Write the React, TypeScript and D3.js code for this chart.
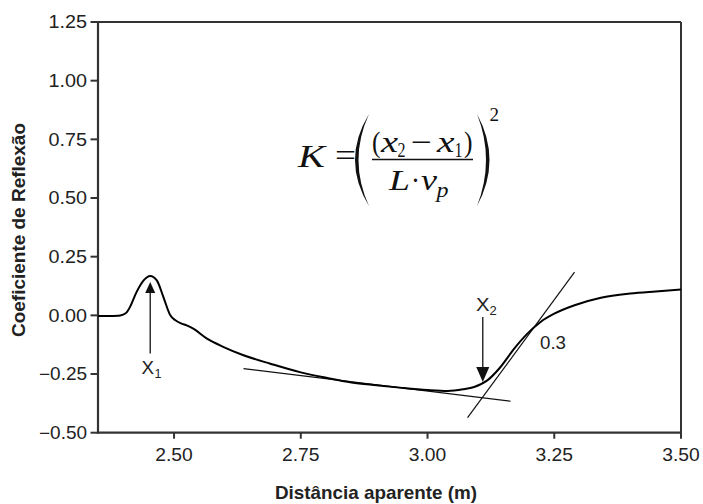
import React from "react";
import * as d3 from "d3";

// ---- data ----
const distance = [2.35, 2.37, 2.39, 2.398, 2.407, 2.413, 2.426, 2.44, 2.453, 2.466, 2.479, 2.492, 2.502, 2.515, 2.525, 2.538, 2.565, 2.598, 2.637, 2.69, 2.75, 2.8, 2.85, 2.9, 2.95, 3.0, 3.04, 3.07, 3.092, 3.118, 3.144, 3.171, 3.197, 3.223, 3.25, 3.29, 3.342, 3.4, 3.45, 3.5];
const reflection = [-0.003, -0.003, -0.002, 0.002, 0.014, 0.035, 0.099, 0.149, 0.168, 0.149, 0.078, 0.003, -0.02, -0.035, -0.043, -0.057, -0.099, -0.135, -0.17, -0.206, -0.243, -0.266, -0.286, -0.298, -0.309, -0.318, -0.322, -0.315, -0.305, -0.277, -0.22, -0.142, -0.078, -0.028, 0.007, 0.043, 0.075, 0.093, 0.102, 0.11];

const tangentFlatX = [2.637, 3.164];
const tangentFlatY = [-0.227, -0.366];
const tangentSteepX = [3.079, 3.29];
const tangentSteepY = [-0.436, 0.184];

const arrowX1 = { x: 2.453, from: -0.162, to: 0.142 };
const arrowX2 = { x: 3.109, from: -0.007, to: -0.284 };

const xTicks = [2.5, 2.75, 3.0, 3.25, 3.5];
const yTicks = [-0.5, -0.25, 0, 0.25, 0.5, 0.75, 1.0, 1.25];
const xDomain = [2.35, 3.5];
const yDomain = [-0.5, 1.25];

const xTitle = "Distância aparente (m)";
const yTitle = "Coeficiente de Reflexão";
const slopeLabel = "0.3";

const W = 703;
const H = 504;
const left = 98, right = 681, top = 22, bottom = 432.7;

export default function App() {
  const x = d3.scaleLinear().domain(xDomain).range([left, right]);
  const y = d3.scaleLinear().domain(yDomain).range([bottom, top]);
  const fmt = d3.format(".2f");
  const pts: [number, number][] = distance.map((d, i) => [d, reflection[i]]);
  const line = d3
    .line<[number, number]>()
    .x((d) => x(d[0]))
    .y((d) => y(d[1]))
    .curve(d3.curveMonotoneX);
  const seg = (xs: number[], ys: number[]) =>
    d3.line<number>().x((_, i) => x(xs[i])).y((_, i) => y(ys[i]))(xs.map((_, i) => i)) || "";

  const sans = "'Liberation Sans', Arial, Helvetica, sans-serif";
  const serif = "'Liberation Serif', 'Times New Roman', Times, serif";
  const axisColor = "#333";
  const textColor = "#222";

  const arrow = (a: { x: number; from: number; to: number }, w: number, h: number) => {
    const ax = x(a.x);
    const y0 = y(a.from);
    const y1 = y(a.to);
    const dir = y1 < y0 ? 1 : -1; // 1 = pointing up
    const baseY = y1 + dir * h;
    return (
      <g>
        <line x1={ax} x2={ax} y1={y0} y2={baseY} stroke="#111" strokeWidth={1.3} />
        <path d={`M${ax},${y1} L${ax - w / 2},${baseY} L${ax + w / 2},${baseY} Z`} fill="#111" />
      </g>
    );
  };

  return (
    <svg
      width={W}
      height={H}
      style={{ position: "absolute", left: 0, top: 0, background: "#fff" }}
      xmlns="http://www.w3.org/2000/svg"
    >
      <rect x={0} y={0} width={W} height={H} fill="#fff" />
      {/* frame */}
      <line x1={left} x2={right} y1={top} y2={top} stroke={axisColor} strokeWidth={2} />
      <line x1={right} x2={right} y1={top} y2={bottom} stroke={axisColor} strokeWidth={2} />
      <line x1={left} x2={left} y1={top - 1} y2={bottom + 1} stroke={axisColor} strokeWidth={2.2} />
      <line x1={left - 1} x2={right + 1} y1={bottom} y2={bottom} stroke={axisColor} strokeWidth={2.2} />

      {/* y ticks */}
      {yTicks.map((t) => {
        const label = fmt(t);
        return (
          <g key={"y" + t}>
            <line x1={left - 7.5} x2={left} y1={y(t)} y2={y(t)} stroke={axisColor} strokeWidth={2} />
            <text
              x={left - 11}
              y={y(t)}
              dy="0.36em"
              textAnchor="end"
              fontFamily={sans}
              fontSize={17.5}
              fill={textColor}
              textLength={label.length > 4 ? 48 : 38.5}
              lengthAdjust="spacingAndGlyphs"
            >
              {label}
            </text>
          </g>
        );
      })}

      {/* x ticks */}
      {xTicks.map((t) => {
        const label = fmt(t);
        return (
          <g key={"x" + t}>
            <line x1={x(t)} x2={x(t)} y1={bottom} y2={bottom + 6} stroke={axisColor} strokeWidth={2} />
            <text
              x={x(t)}
              y={461}
              textAnchor="middle"
              fontFamily={sans}
              fontSize={17.5}
              fill={textColor}
              textLength={37.5}
              lengthAdjust="spacingAndGlyphs"
            >
              {label}
            </text>
          </g>
        );
      })}

      {/* titles */}
      <text
        x={376}
        y={499}
        textAnchor="middle"
        fontFamily={sans}
        fontWeight="bold"
        fontSize={19}
        fill={textColor}
        textLength={202}
        lengthAdjust="spacingAndGlyphs"
      >
        {xTitle}
      </text>
      <text
        transform="translate(25,230) rotate(-90)"
        textAnchor="middle"
        fontFamily={sans}
        fontWeight="bold"
        fontSize={19}
        fill={textColor}
        textLength={214}
        lengthAdjust="spacingAndGlyphs"
      >
        {yTitle}
      </text>

      {/* tangent lines */}
      <path d={seg(tangentFlatX, tangentFlatY)} stroke="#111" strokeWidth={1.2} fill="none" />
      <path d={seg(tangentSteepX, tangentSteepY)} stroke="#111" strokeWidth={1.2} fill="none" />

      {/* curve */}
      <path d={line(pts) || ""} stroke="#000" strokeWidth={2} fill="none" strokeLinejoin="round" />

      {/* arrows & labels */}
      {arrow(arrowX1, 10, 11)}
      {arrow(arrowX2, 13, 15)}

      <text x={141.5} y={374} fontFamily={sans} fontSize={18} fill={textColor} textLength={12.5} lengthAdjust="spacingAndGlyphs">
        X
      </text>
      <text x={154.5} y={377.5} fontFamily={sans} fontSize={12.5} fill={textColor}>
        1
      </text>
      <text x={476} y={310.5} fontFamily={sans} fontSize={19} fill={textColor} textLength={13.5} lengthAdjust="spacingAndGlyphs">
        X
      </text>
      <text x={489.5} y={315} fontFamily={sans} fontSize={13} fill={textColor}>
        2
      </text>
      <text x={540} y={348.5} fontFamily={sans} fontSize={18} fill={textColor} textLength={26} lengthAdjust="spacingAndGlyphs">
        {slopeLabel}
      </text>

      {/* formula */}
      <g fill="#111" fontFamily={serif}>
        <text x={298} y={166.5} fontSize={31} fontStyle="italic" textLength={27} lengthAdjust="spacingAndGlyphs">K</text>
        <text x={335} y={165.5} fontSize={31} textLength={21} lengthAdjust="spacingAndGlyphs">=</text>
        <path d="M369,114 Q341,160 369,206 Q348,160 369,114 Z" />
        <path d="M477,114 Q502,160 477,206 Q495,160 477,114 Z" />
        {/* numerator */}
        <text x={372} y={151.5} fontSize={30} textLength={8.5} lengthAdjust="spacingAndGlyphs">(</text>
        <text x={381} y={151.5} fontSize={30} fontStyle="italic" textLength={17} lengthAdjust="spacingAndGlyphs">x</text>
        <text x={397.5} y={157} fontSize={20} textLength={8} lengthAdjust="spacingAndGlyphs">2</text>
        <text x={411} y={151.5} fontSize={30} textLength={21} lengthAdjust="spacingAndGlyphs">−</text>
        <text x={437} y={151.5} fontSize={30} fontStyle="italic" textLength={17.5} lengthAdjust="spacingAndGlyphs">x</text>
        <text x={454.5} y={157} fontSize={20} textLength={8} lengthAdjust="spacingAndGlyphs">1</text>
        <text x={464} y={151.5} fontSize={30} textLength={8.5} lengthAdjust="spacingAndGlyphs">)</text>
        <line x1={372} x2={473} y1={159.5} y2={159.5} stroke="#111" strokeWidth={1.4} />
        {/* denominator */}
        <text x={389} y={190} fontSize={30} fontStyle="italic" textLength={21} lengthAdjust="spacingAndGlyphs">L</text>
        <text x={411} y={190} fontSize={30} textLength={9} lengthAdjust="spacingAndGlyphs">·</text>
        <text x={421} y={190} fontSize={30} fontStyle="italic" textLength={16} lengthAdjust="spacingAndGlyphs">v</text>
        <text x={436.5} y={197} fontSize={20} fontStyle="italic" textLength={12} lengthAdjust="spacingAndGlyphs">p</text>
        {/* exponent */}
        <text x={489.5} y={121} fontSize={19} textLength={9.5} lengthAdjust="spacingAndGlyphs">2</text>
      </g>
    </svg>
  );
}
